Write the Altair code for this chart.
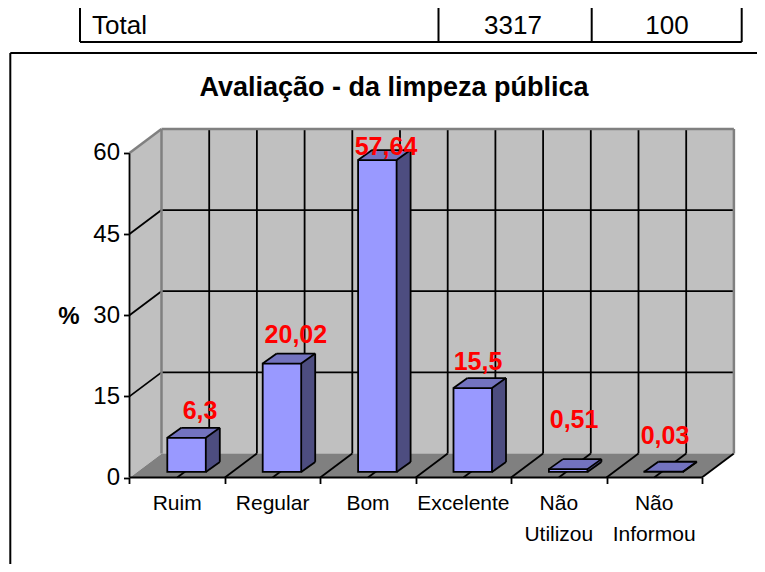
import altair as alt
import pandas as pd

# ---- chart values ----
categories = ["Ruim", "Regular", "Bom", "Excelente", "Não\nUtilizou", "Não\nInformou"]
values = [6.3, 20.02, 57.64, 15.5, 0.51, 0.03]
value_labels = ["6,3", "20,02", "57,64", "15,5", "0,51", "0,03"]
y_ticks = [0, 15, 30, 45, 60]
title_text = "Avaliação - da limpeza pública"
table_row = ["Total", "3317", "100"]

# ---- layout (pixels inside the svg) ----
W, H = 749, 556
OX, SX = 121.5, 95.4      # x of category boundary 0, pixels per category
OY, SY = 469.5, 5.41      # y of value 0, pixels per unit
D, E = 32 / SX, 24 / SY   # depth of the box
BAR_L, BAR_W = 37.8 / SX, 38.5 / SX
BAR_BASE = 5.6 / SY
BD, BE = 14 / SX, 10 / SY  # depth of a bar
LABEL_X = [70.5, 71, 65.7, 62.3, 63, 58.5]
LABEL_UP = [26.5, 29, 13, 26, 49, 36]
FONT = "Liberation Sans"
LINE = 1.8

top = max(y_ticks)
n = len(categories)

xs = alt.Scale(domain=[-OX / SX, (W - OX) / SX], nice=False, zero=False)
ys = alt.Scale(domain=[-(H - OY) / SY, OY / SY], nice=False, zero=False)
x_axis = alt.Axis(
    values=list(range(n + 1)), labels=False, title=None, domain=False, grid=False,
    ticks=True, tickSize=6, tickWidth=LINE, tickColor="black", orient="bottom",
    offset=-(H - OY),
)
y_axis = alt.Axis(
    values=y_ticks, title="%", titleAngle=0, titleFont=FONT, titleFontSize=24,
    titleFontWeight="bold", titleColor="black", titleX=-61, titleY=308,
    titleAlign="center", titleBaseline="middle",
    domain=False, grid=False, ticks=True, tickSize=6, tickWidth=LINE, tickColor="black",
    labelFont=FONT, labelFontSize=24, labelColor="black", labelPadding=4,
    orient="left", offset=-OX, labelFlush=False, labelOverlap=False,
)
X = alt.X("x:Q", scale=xs, axis=x_axis)
Y = alt.Y("y:Q", scale=ys, axis=y_axis)


def para_top(group, fill, x0, x1, y, dx, dy):
    """horizontal-edged parallelogram"""
    return [
        dict(g=group, fill=fill, x=x0, y=y, y2=y),
        dict(g=group, fill=fill, x=x0 + dx, y=y + dy, y2=y),
        dict(g=group, fill=fill, x=x1, y=y + dy, y2=y),
        dict(g=group, fill=fill, x=x1 + dx, y=y + dy, y2=y + dy),
    ]


def para_side(group, fill, x, y0, y1, dx, dy):
    """vertical-edged parallelogram"""
    return [
        dict(g=group, fill=fill, x=x, y=y1, y2=y0),
        dict(g=group, fill=fill, x=x + dx, y=y1 + dy, y2=y0 + dy),
    ]


def seg(x, y, x2, y2):
    return dict(x=x, y=y, x2=x2, y2=y2)


def area_layer(rows):
    return alt.Chart(pd.DataFrame(rows)).mark_area(opacity=1, interpolate="linear").encode(
        x=X, y=Y, y2="y2:Q",
        fill=alt.Fill("fill:N", scale=None),
        detail="g:N",
    )


def rule_layer(rows, color="black", width=LINE):
    return alt.Chart(pd.DataFrame(rows)).mark_rule(color=color, strokeWidth=width).encode(
        x=X, y=Y, x2="x2:Q", y2="y2:Q"
    )


# box
box = (
    para_side("left", "#C0C0C0", 0, 0, top, D, E)
    + para_side("back", "#C0C0C0", D, E, top + E, n, 0)
    + para_top("floor", "#808080", 0, n, 0, D, E)
)
grid = []
half = [i / 2 for i in range(1, 2 * n)]
for v in y_ticks[1:-1]:
    grid.append(seg(D, v + E, n + D, v + E))
for v in y_ticks[1:-1]:
    grid.append(seg(0, v, D, v + E))
for h in half:
    grid.append(seg(h + D, E, h + D, top + E))
    grid.append(seg(h, 0, h + D, E))
grid.append(seg(n, 0, n + D, E))
grid.append(seg(0, 0, n, 0))
grid.append(seg(0, 0, 0, top))
edge = [
    seg(D, E, D, top + E),
    seg(D, top + E, n + D, top + E),
    seg(n + D, E, n + D, top + E),
    seg(0, top, D, top + E),
]
floor_edge = [seg(0, 0, D, E)]

# bars
fronts, faces, lines = [], [], []
for i, v in enumerate(values):
    xl = i + BAR_L
    xr = xl + BAR_W
    b = BAR_BASE
    t = b + v
    fronts.append(dict(x=xl, x2=xr, y=b, y2=t))
    faces += para_side(f"s{i}", "#4D4D80", xr, b, t, BD, BE)
    faces += para_top(f"t{i}", "#7373BF", xl, xr, t, BD, BE)
    lines += [
        seg(xr, b, xr + BD, b + BE),
        seg(xr + BD, b + BE, xr + BD, t + BE),
        seg(xr, t, xr + BD, t + BE),
        seg(xl, t, xl + BD, t + BE),
        seg(xl + BD, t + BE, xr + BD, t + BE),
    ]

front_layer = alt.Chart(pd.DataFrame(fronts)).mark_rect(
    fill="#9999FF", stroke="black", strokeWidth=LINE
).encode(x=X, x2="x2:Q", y=Y, y2="y2:Q")

# category labels and value labels
cat_df = pd.DataFrame({"x": [i + 0.5 for i in range(n)], "y": [-(504 - 8 - OY) / SY] * n, "t": categories})
cats = alt.Chart(cat_df).mark_text(
    font=FONT, fontSize=21, color="black", baseline="middle", align="center",
    lineBreak="\n", lineHeight=31,
).encode(x=X, y=Y, text="t:N")

lab_df = pd.DataFrame({
    "x": [i + LABEL_X[i] / SX for i in range(n)],
    "y": [values[i] + BAR_BASE + LABEL_UP[i] / SY for i in range(n)],
    "t": value_labels,
})
labs = alt.Chart(lab_df).mark_text(
    font=FONT, fontSize=25, fontWeight="bold", color="#FF0000", baseline="middle", align="center",
).encode(x=X, y=Y, text="t:N")

# table fragment above the chart and the chart's frame
deco_rows = [
    (72, 0, 72, 34), (430.5, 0, 430.5, 34), (583.7, 0, 583.7, 34), (733.7, 0, 733.7, 34),
    (72, 34, 733.7, 34), (2.3, 45, 749, 45), (2.3, 45, 2.3, 556),
]
deco = [
    alt.Chart(pd.DataFrame({"a": [0]})).mark_rule(color="black", strokeWidth=2).encode(
        x=alt.value(a), y=alt.value(b), x2=alt.value(c), y2=alt.value(d)
    )
    for a, b, c, d in deco_rows
]
table_text = [
    alt.Chart(pd.DataFrame({"t": [t]})).mark_text(
        font=FONT, fontSize=26, color="black", baseline="middle", align=al
    ).encode(x=alt.value(px), y=alt.value(17.5), text="t:N")
    for t, px, al in zip(table_row, [84, 505, 659], ["left", "center", "center"])
]

chart = alt.layer(
    area_layer(box),
    rule_layer(floor_edge, color="#C0C0C0", width=1),
    rule_layer(grid),
    rule_layer(edge, color="#808080", width=2.5),
    area_layer(faces),
    front_layer,
    rule_layer(lines),
    cats,
    labs,
    *deco,
    *table_text,
).properties(
    width=W, height=H,
    padding=0,
    autosize=alt.AutoSizeParams(type="none"),
    background="white",
    title=alt.TitleParams(
        title_text, font=FONT, fontSize=27, fontWeight="bold", color="black",
        anchor="middle", frame="group", offset=0, baseline="middle", dx=11.5, dy=108,
    ),
).configure_view(stroke=None)

chart.save("out.html", embed_options={"renderer": "svg", "actions": False})
